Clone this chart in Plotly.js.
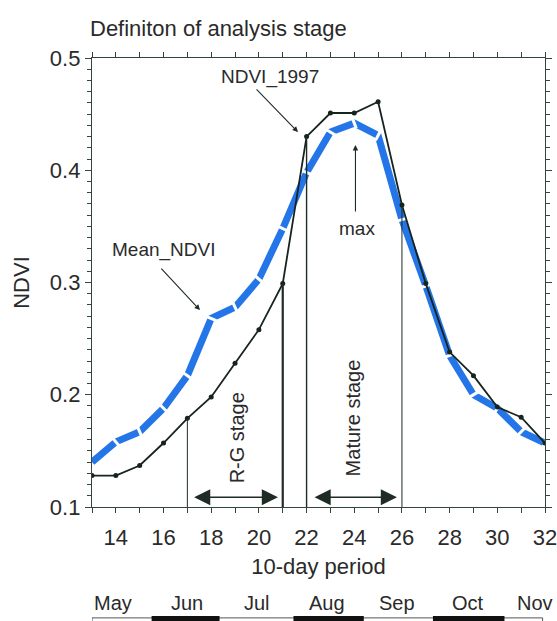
<!DOCTYPE html>
<html>
<head>
<meta charset="utf-8">
<script src="https://cdn.plot.ly/plotly-3.0.1.min.js"></script>
<style>
  html, body { margin: 0; padding: 0; background: #fff; }
  #chart { width: 557px; height: 621px; }
</style>
</head>
<body>
<div id="chart"></div>
<script>
// ---- data ----
var periods   = [13, 14, 15, 16, 17, 18, 19, 20, 21, 22, 23, 24, 25, 26, 27, 28, 29, 30, 31, 32];
var ndvi1997  = [0.128, 0.128, 0.137, 0.157, 0.179, 0.198, 0.228, 0.258, 0.299, 0.430, 0.451, 0.451, 0.461, 0.369, 0.299, 0.238, 0.217, 0.189, 0.180, 0.157];
var meanNdvi  = [0.140, 0.158, 0.167, 0.188, 0.217, 0.268, 0.278, 0.303, 0.348, 0.398, 0.434, 0.442, 0.431, 0.356, 0.297, 0.235, 0.200, 0.188, 0.167, 0.157];
var xTickVals = [14, 16, 18, 20, 22, 24, 26, 28, 30, 32];
var rgStage     = [17, 21];
var matureStage = [22, 26];
var months       = ['May', 'Jun', 'Jul', 'Aug', 'Sep', 'Oct', 'Nov'];
var monthCenters = [13.9, 17.0, 19.9, 22.85, 25.8, 28.75, 31.6];
var darkMonthSpans = [[15.5, 18.35], [21.45, 24.4], [27.3, 30.3]];

var FONT = 'Liberation Sans, Arial, Helvetica, sans-serif';
var TXT = '#2a2a2a';
var AX = '#34463c';

var traces = [
  {
    x: periods, y: meanNdvi, type: 'scatter', mode: 'lines+markers', name: 'Mean_NDVI',
    line: { color: 'rgb(36,118,232)', width: 7 },
    marker: { symbol: 'line-ew', size: 8, angleref: 'previous',
              color: '#ffffff', line: { color: '#ffffff', width: 3 } },
    showlegend: false, hoverinfo: 'x+y'
  },
  {
    x: periods, y: ndvi1997, type: 'scatter', mode: 'lines+markers', name: 'NDVI_1997',
    line: { color: '#17241d', width: 1.8 },
    marker: { symbol: 'circle', size: 5, color: '#17241d' },
    showlegend: false, hoverinfo: 'x+y'
  }
];

function valAt(x) { return ndvi1997[periods.indexOf(x)]; }

var shapes = [];
var boundaries = [
  { x: rgStage[0], w: 1 },
  { x: rgStage[1], w: 2.2 },
  { x: matureStage[0], w: 1.4 },
  { x: matureStage[1], w: 1 }
];
boundaries.forEach(function (b) {
  shapes.push({ type: 'line', xref: 'x', yref: 'y', x0: b.x, x1: b.x, y0: 0.1, y1: valAt(b.x),
                line: { color: '#1f2b25', width: b.w } });
});
// month bar
shapes.push({ type: 'rect', xref: 'x', yref: 'paper', x0: 13.0, x1: 31.9, y0: -0.30, y1: -0.247,
              line: { color: '#555', width: 1 }, fillcolor: 'rgba(0,0,0,0)' });
darkMonthSpans.forEach(function (s) {
  shapes.push({ type: 'rect', xref: 'x', yref: 'paper', x0: s[0], x1: s[1], y0: -0.30, y1: -0.243,
                line: { width: 0 }, fillcolor: '#111' });
});

var annotations = [];
function txt(t, x, y, size, angle) {
  annotations.push({ text: t, x: x, y: y, xref: 'x', yref: 'y', showarrow: false,
                     font: { family: FONT, size: size, color: TXT }, textangle: angle || 0,
                     xanchor: 'center', yanchor: 'middle' });
}
function arrow(x0, y0, x1, y1, opts) {
  annotations.push(Object.assign({ text: '', x: x1, y: y1, ax: x0, ay: y0, xref: 'x', yref: 'y',
                     axref: 'x', ayref: 'y', showarrow: true, arrowhead: 2, arrowsize: 1,
                     arrowwidth: 1.1, arrowcolor: '#1f2b25', standoff: 0, startstandoff: 0 }, opts || {}));
}
txt('NDVI_1997', 20.47, 0.483, 19);
arrow(19.84, 0.4733, 21.64, 0.434);
txt('max', 24.1, 0.348, 19);
arrow(24.05, 0.362, 24.05, 0.4225);
txt('Mean_NDVI', 16.02, 0.329, 19);
arrow(15.85, 0.3137, 17.53, 0.2754);
txt('R-G stage', 19.08, 0.162, 20, -90);
txt('Mature stage', 23.95, 0.179, 20, -90);
arrow(rgStage[0] + 0.22, 0.1087, rgStage[1] - 0.2, 0.1087,
      { arrowside: 'end+start', arrowhead: 2, startarrowhead: 2, arrowsize: 1.9, startarrowsize: 1.9, arrowwidth: 1.7 });
arrow(matureStage[0] + 0.27, 0.1087, matureStage[1] - 0.21, 0.1087,
      { arrowside: 'end+start', arrowhead: 2, startarrowhead: 2, arrowsize: 1.9, startarrowsize: 1.9, arrowwidth: 1.7 });
months.forEach(function (m, i) {
  annotations.push({ text: m, x: monthCenters[i], y: -0.214, xref: 'x', yref: 'paper', showarrow: false,
                     font: { family: FONT, size: 20, color: TXT }, xanchor: 'center', yanchor: 'middle' });
});

var layout = {
  width: 557, height: 621,
  margin: { l: 92, r: 12, t: 58, b: 114 },
  paper_bgcolor: '#ffffff', plot_bgcolor: '#ffffff',
  font: { family: FONT, color: TXT },
  title: { text: 'Definiton of analysis stage', font: { family: FONT, size: 22, color: TXT },
           x: 90 / 557, xanchor: 'left', xref: 'container', y: 1 - 28 / 621, yref: 'container', yanchor: 'middle' },
  xaxis: {
    range: [13, 32], tickvals: xTickVals, ticktext: xTickVals.map(String),
    ticks: 'outside', ticklen: 5, tickwidth: 1, tickcolor: AX, ticklabelstandoff: 5,
    ticklabeloverflow: 'allow',
    minor: { dtick: 1, tick0: 13, ticks: 'outside', ticklen: 5, tickcolor: AX, showgrid: false },
    showline: true, linecolor: AX, linewidth: 1.2, mirror: 'ticks',
    showgrid: false, zeroline: false,
    tickfont: { family: FONT, size: 22, color: TXT },
    title: { text: '10-day period', font: { family: FONT, size: 22, color: TXT }, standoff: 10 }
  },
  yaxis: {
    range: [0.1, 0.5], dtick: 0.1, tick0: 0.1, tickformat: '.1f',
    ticks: 'outside', ticklen: 6, tickwidth: 1, tickcolor: AX,
    ticklabeloverflow: 'allow',
    minor: { dtick: 0.01, ticks: 'outside', ticklen: 4, tickcolor: AX, showgrid: false },
    showline: true, linecolor: AX, linewidth: 1.2, mirror: 'ticks',
    showgrid: false, zeroline: false,
    tickfont: { family: FONT, size: 22, color: TXT },
    title: { text: 'NDVI', font: { family: FONT, size: 22, color: TXT }, standoff: 14 }
  },
  shapes: shapes,
  annotations: annotations,
  showlegend: false
};

Plotly.newPlot('chart', traces, layout, { displayModeBar: false, staticPlot: true });
</script>
</body>
</html>
